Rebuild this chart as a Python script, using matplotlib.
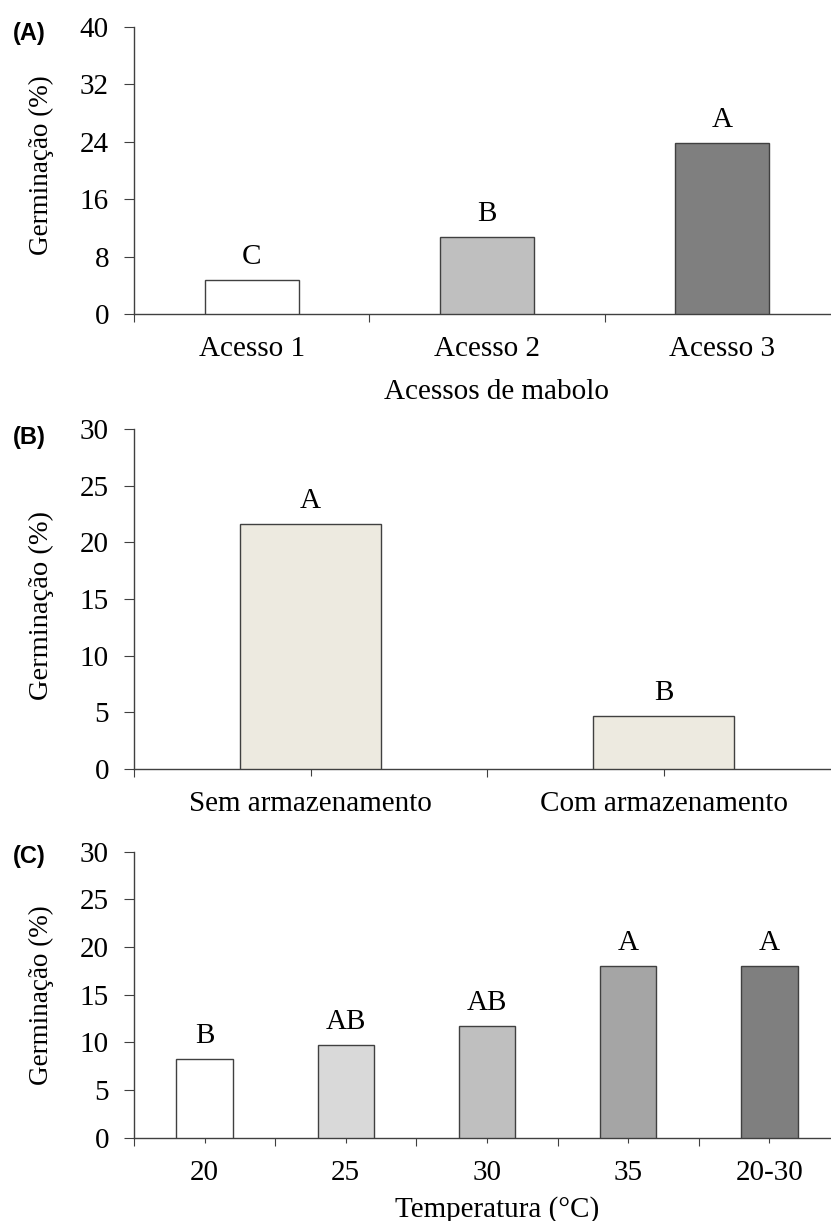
import matplotlib
matplotlib.use("Agg")
import matplotlib.pyplot as plt
import numpy as np

plt.rcParams["font.family"] = ["Liberation Serif", "DejaVu Serif"]
plt.rcParams["axes.unicode_minus"] = False

# (A) acessos
acessos = ["Acesso 1", "Acesso 2", "Acesso 3"]
germ_acessos = [4.8, 10.8, 23.9]
letras_acessos = ["C", "B", "A"]
cores_acessos = ["#ffffff", "#bfbfbf", "#7f7f7f"]

# (B) armazenamento
armaz = ["Sem armazenamento", "Com armazenamento"]
germ_armaz = [21.6, 4.65]
letras_armaz = ["A", "B"]
cores_armaz = ["#edeae0", "#edeae0"]

# (C) temperatura
temps = ["20", "25", "30", "35", "20-30"]
germ_temps = [8.3, 9.7, 11.7, 18.05, 18.05]
letras_temps = ["B", "AB", "AB", "A", "A"]
cores_temps = ["#ffffff", "#d9d9d9", "#bfbfbf", "#a5a5a5", "#7f7f7f"]

FS = 21
EDGE = "#404040"

W, H = 831, 1221
fig = plt.figure(figsize=(W / 100, H / 100), dpi=100)


def ax_px(x0, x1, y_top, y_bot):
    return fig.add_axes([x0 / W, 1 - y_bot / H, (x1 - x0) / W, (y_bot - y_top) / H])


def painel(ax, cats, vals, letras, cores, ymax, ystep, minor_len, pad,
           ylab_fs=19.5, ylab_y=0.5):
    x = np.arange(len(cats)) + 0.5
    ax.bar(x, vals, width=0.4, color=cores, edgecolor=EDGE, linewidth=1.0, zorder=3)
    for xi, v, l in zip(x, vals, letras):
        ax.annotate(l, (xi, v), xytext=(0, 11.5), textcoords="offset points",
                    ha="center", va="baseline", fontsize=FS)
    ax.set_xlim(0, len(cats))
    ax.set_ylim(0, ymax)
    ax.set_yticks(np.arange(0, ymax + 0.1, ystep))
    ax.set_xticks(np.arange(len(cats) + 1))
    ax.set_xticklabels([])
    ax.set_xticks(x, minor=True)
    ax.set_xticklabels(cats, minor=True)
    for s in ("top", "right"):
        ax.spines[s].set_visible(False)
    for s in ("left", "bottom"):
        ax.spines[s].set_color(EDGE)
        ax.spines[s].set_linewidth(1.0)
    ax.tick_params(axis="y", direction="out", length=7.5, width=0.8, color=EDGE,
                   labelsize=FS, pad=10.5)
    ax.tick_params(axis="x", which="major", direction="out", length=6, width=0.8, color=EDGE)
    ax.tick_params(axis="x", which="minor", direction="out", length=minor_len, width=0.8,
                   color=EDGE, labelsize=FS, pad=pad)
    ax.set_ylabel("Germinação (%)", fontsize=ylab_fs, va="center")
    ax.yaxis.set_label_coords(-0.131, ylab_y)


axA = ax_px(134, 840, 27, 314)
painel(axA, acessos, germ_acessos, letras_acessos, cores_acessos, 40, 8, 0, 16.2,
       ylab_y=0.519)
axA.set_xlabel("Acessos de mabolo", fontsize=FS)
axA.xaxis.set_label_coords(0.514, -0.225)

axB = ax_px(134, 840, 429.3, 768.7)
painel(axB, armaz, germ_armaz, letras_armaz, cores_armaz, 30, 5, 5, 11,
       ylab_fs=20.5, ylab_y=0.482)

axC = ax_px(134, 840, 851.7, 1137.7)
painel(axC, temps, germ_temps, letras_temps, cores_temps, 30, 5, 3.5, 12.7)
axC.set_xlabel("Temperatura (°C)", fontsize=FS)
axC.xaxis.set_label_coords(0.514, -0.204)

for lab, ybase in [("(A)", 40), ("(B)", 444), ("(C)", 863)]:
    fig.text(13 / W, 1 - ybase / H, lab, fontsize=17, fontweight="bold",
             family=["Liberation Sans", "DejaVu Sans"], ha="left", va="baseline")

fig.savefig("out.png", dpi=100, facecolor="white")
